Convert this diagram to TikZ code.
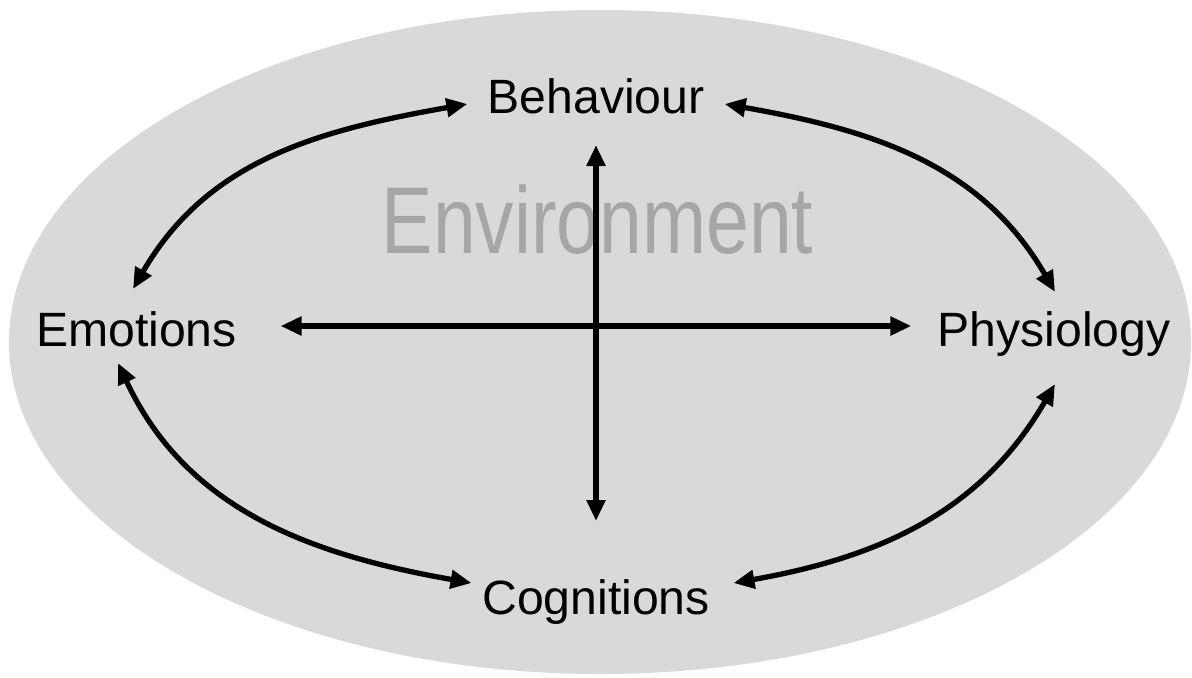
\documentclass[tikz,border=0pt]{standalone}
\usepackage{fontspec}
\setmainfont{Liberation Sans}
\usetikzlibrary{arrows.meta}
\definecolor{envfill}{HTML}{D9D9D9}
\definecolor{envtext}{HTML}{A6A6A6}
\tikzset{
  lbl/.style={inner sep=0pt,anchor=base,font=\fontsize{13.7}{16}\selectfont},
  biarrow/.style={line width=1.5pt,{Triangle[length=2.1mm,width=1.8mm]}-{Triangle[length=2.1mm,width=1.8mm]}}
}
\begin{document}
\begin{tikzpicture}
   \useasboundingbox (0,0) rectangle (11.92,6.77);
   \fill[envfill] (6,3.35) ellipse [x radius=5.91,y radius=3.32];
   \node[anchor=base,inner sep=0pt,text=envtext,font=\fontsize{27}{30}\selectfont] (env) at (5.975,4.24) {\scalebox{0.81}[1]{Environment}};
   \node[lbl] (beh) at (5.96,5.64) {Behaviour};
   \node[lbl] (emo) at (1.365,3.31) {Emotions};
   \node[lbl] (phy) at (10.54,3.31) {Physiology};
   \node[lbl] (cog) at (5.96,0.63) {Cognitions};
   \draw[biarrow] ([xshift=4.3mm,yshift=2mm]emo.base east) -- ([xshift=-2.55mm,yshift=2mm]phy.base west);
   \draw[biarrow] ([yshift=-3.2mm]beh.base) -- ([yshift=9.3mm]cog.base);
   \draw[biarrow] ([xshift=-0.35mm,yshift=5.7mm]emo.base) to[out=60,in=190] ([xshift=-1.95mm,yshift=0.9mm]beh.base west);
   \draw[biarrow] ([xshift=1.95mm,yshift=0.9mm]beh.base east) to[out=-10,in=120] ([xshift=0.1mm,yshift=5.4mm]phy.base);
   \draw[biarrow] ([xshift=-1.85mm,yshift=-1.7mm]emo.base) to[out=-65,in=170] ([xshift=-1mm,yshift=3.1mm]cog.base west);
   \draw[biarrow] ([xshift=2.3mm,yshift=3.1mm]cog.base east) to[out=10,in=-120] ([xshift=0.1mm,yshift=-3.8mm]phy.base);
\end{tikzpicture}
\end{document}
